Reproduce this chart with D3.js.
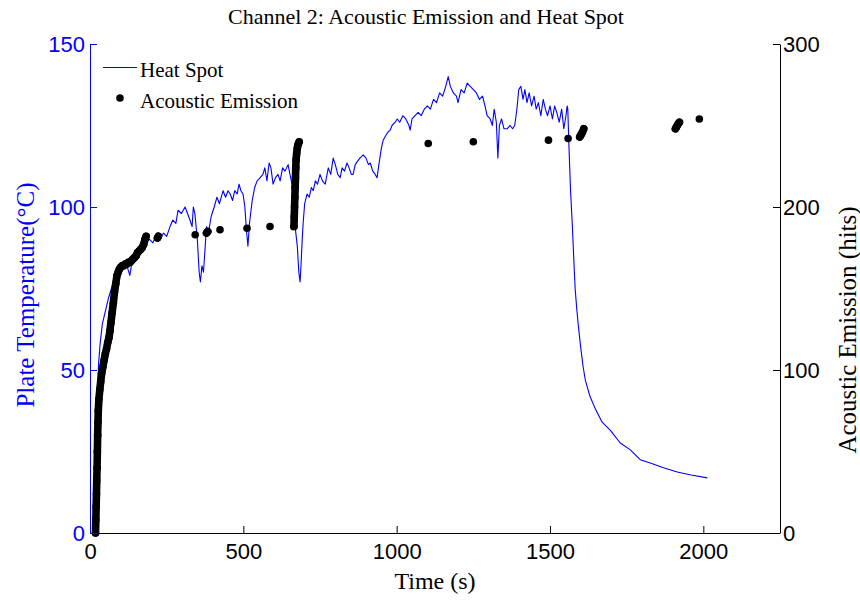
<!DOCTYPE html>
<html>
<head>
<meta charset="utf-8">
<script src="https://cdn.jsdelivr.net/npm/d3@7"></script>
<style>
  html, body { margin: 0; padding: 0; background: #fff; }
  svg { display: block; }
</style>
</head>
<body>
<svg id="chart" width="860" height="602"></svg>
<script>
// ---------------- DATA ----------------
const chartTitle = "Channel 2: Acoustic Emission and Heat Spot";
const xTicks = [0, 500, 1000, 1500, 2000];
const tempTicks = [0, 50, 100, 150];
const hitTicks = [0, 100, 200, 300];

// Heat Spot: time (s) and plate temperature (°C)
const hsTime = [17,20,24,28,33,40,50,60,70,80,90,100,110,120,130,135,150,165,180,195,205,215,228,240,250,261,270,280,287,298,310,318,326,333,337,342,350,356,360,365,370,375,380,386,395,405,414,422,434,442,450,457,465,472,480,486,492,499,505,510,515,520,529,537,545,555,564,570,577,584,590,597,605,613,620,628,636,646,652,659,664,670,676,681,685,688,692,695,700,708,715,722,728,735,742,750,758,767,773,777,785,793,800,808,816,822,830,838,845,852,858,865,872,880,891,900,908,914,922,930,936,942,950,956,965,972,979,985,995,1002,1010,1020,1030,1040,1044,1050,1060,1070,1080,1090,1100,1110,1120,1130,1140,1150,1160,1168,1175,1185,1195,1200,1210,1220,1230,1240,1250,1260,1270,1280,1288,1295,1305,1312,1318,1325,1330,1335,1342,1350,1360,1370,1378,1385,1392,1398,1405,1412,1418,1425,1432,1440,1448,1455,1462,1470,1478,1485,1492,1500,1508,1515,1522,1530,1538,1545,1552,1556,1558,1562,1567,1573,1578,1582,1587,1592,1600,1608,1615,1630,1648,1670,1697,1729,1762,1794,1827,1870,1915,1960,2013];
const hsTemp = [2,25,42,52,58,64,68,72,75,78,80,81,82,82,79,82,85,88,90,90,89,91,90,92,91,94,96,95,99,98,100,98,96,94,100,98,90,80,77,82,80,87,94,92,97,100,103,101,105,103,105,104,102,105,104,107,105,104,100,93,88,95,102,106,108,109,110,112,108,113.5,112,107,109,110,108,112,111,113,110,107,100,93,88,80,77,82,90,95,101,104,103,106,105,108,107,110,108,107,110,112,110,115,113,110,109,112,111,113.5,112,110,110,113,114,115,116,115,113,113.5,111,110,109,113,118,120.5,122,123,123.6,125,126,127,126,128,127,125,123.6,127,128,129,128,130,131,130,133,132,135,134,137,140,137,135,134,132,136,135,138,137,136,135,133,134,131,128,127,125,130,126,115,125,127,124,124,125,124,125,130,136,137,133,136,132,135,131,134,130,132,128,133,130,128,131,127,131,129,126,130,124,128,131,130,118,105,94,83,75,69,64,57,51,47,42,38,34,31.5,27.6,25.5,22.5,21.5,20,18.7,17.8,16.9];

// Acoustic Emission: time (s) and cumulative hits
const aeTime = [18,19,20,21,22,23,24,25,26,27,29,32,35,38,42,46,50,54,58,62,65,68,72,76,80,84,88,92,96,100,105,110,115,120,125,130,135,140,145,150,155,160,165,170,175,179,183,220,223,343,380,384,424,512,587,665,666,667,668,669,670,671,672,674,676,678,680,682,1103,1250,1495,1559,1597,1600,1603,1606,1610,1909,1912,1915,1918,1922,1987];
const aeHits = [0,8,16,24,32,40,50,60,68,75,82,88,93,98,102,106,110,113,117,120,124,129,135,141,148,153,158,160,162,163,164,164,165,165,166,166,167,168,169,170,172,173,174,175,177,180,182,181,182,183,184,185,186,187,188,188,194,200,206,212,218,224,229,233,236,238,239,240,239,240,241,242,243,244,245,246,248,248,249,250,251,252,254];

// ---------------- LAYOUT ----------------
const svg = d3.select("#chart");
const L = 90, R = 780, T = 44, B = 533;
const blue = "#0000ff";
const serif = "'Liberation Serif','Times New Roman',serif";
const sans = "'Liberation Sans',Arial,Helvetica,sans-serif";

const x = d3.scaleLinear().domain([0, 2250]).range([L, R]);
const yT = d3.scaleLinear().domain([0, 150]).range([B, T]);
const yH = d3.scaleLinear().domain([0, 300]).range([B, T]);

// ---------------- MARKS ----------------
const hs = hsTime.map((t, i) => ({t, v: hsTemp[i]}));
svg.append("path")
  .datum(hs)
  .attr("fill", "none")
  .attr("stroke", blue)
  .attr("stroke-width", 1.1)
  .attr("stroke-linejoin", "round")
  .attr("d", d3.line().x(d => x(d.t)).y(d => yT(d.v)));

const ae = aeTime.map((t, i) => ({t, v: aeHits[i]}));
// consecutive hits close in time overlap into a solid band of markers
const bursts = [];
ae.forEach((d, i) => {
  if (i > 0 && d.t - ae[i - 1].t < 12) bursts[bursts.length - 1].push(d);
  else bursts.push([d]);
});
const aeG = svg.append("g");
aeG.selectAll("path.burst")
  .data(bursts.filter(b => b.length > 1))
  .join("path")
  .attr("class", "burst")
  .attr("fill", "none")
  .attr("stroke", "#000")
  .attr("stroke-width", 7.6)
  .attr("stroke-linecap", "round")
  .attr("stroke-linejoin", "round")
  .attr("d", d3.line().x(d => x(d.t)).y(d => yH(d.v)));
aeG.selectAll("circle")
  .data(ae)
  .join("circle")
  .attr("cx", d => x(d.t))
  .attr("cy", d => yH(d.v))
  .attr("r", 3.8)
  .attr("fill", "#000");

// ---------------- AXES ----------------
const tickLen = 7;
const fmt = d3.format("d");
// bottom axis
const xAxis = svg.append("g").attr("transform", `translate(0,${B})`)
  .call(d3.axisBottom(x).tickValues(xTicks).tickFormat(fmt).tickSizeInner(-tickLen).tickSizeOuter(0).tickPadding(10));
xAxis.select(".domain").attr("d", `M${L},0.5H${R}`).attr("stroke", "#000");
xAxis.selectAll("text").attr("font-family", sans).attr("font-size", 22).attr("fill", "#000");

// left axis
const yAxisL = svg.append("g").attr("transform", `translate(${L},0)`)
  .call(d3.axisLeft(yT).tickValues(tempTicks).tickFormat(fmt).tickSizeInner(-tickLen).tickSizeOuter(0).tickPadding(5));
yAxisL.select(".domain").attr("stroke", blue);
yAxisL.selectAll(".tick line").attr("stroke", blue);
yAxisL.selectAll("text").attr("font-family", sans).attr("font-size", 22).attr("fill", blue);

// right axis
const yAxisR = svg.append("g").attr("transform", `translate(${R},0)`)
  .call(d3.axisRight(yH).tickValues(hitTicks).tickFormat(fmt).tickSizeInner(-tickLen).tickSizeOuter(0).tickPadding(3));
yAxisR.select(".domain").attr("stroke", "#000");
yAxisR.selectAll("text").attr("font-family", sans).attr("font-size", 22).attr("fill", "#000");

// ---------------- TEXT ----------------
svg.append("text").attr("x", 426).attr("y", 24).attr("text-anchor", "middle")
  .attr("font-family", serif).attr("font-size", 22).text(chartTitle);

svg.append("text").attr("x", 435).attr("y", 589).attr("text-anchor", "middle")
  .attr("font-family", serif).attr("font-size", 24).text("Time (s)");

svg.append("text").attr("transform", `translate(34,295) rotate(-90)`).attr("text-anchor", "middle")
  .attr("font-family", serif).attr("font-size", 25).attr("fill", blue).text("Plate Temperature(°C)");

svg.append("text").attr("transform", `translate(856,330) rotate(-90)`).attr("text-anchor", "middle")
  .attr("font-family", serif).attr("font-size", 25).attr("fill", "#000").text("Acoustic Emission (hits)");

// ---------------- LEGEND ----------------
const lg = svg.append("g");
lg.append("line").attr("x1", 103).attr("x2", 137).attr("y1", 67.5).attr("y2", 67.5)
  .attr("stroke", blue).attr("stroke-width", 1.1);
lg.append("text").attr("x", 140).attr("y", 77).attr("font-family", serif).attr("font-size", 21).text("Heat Spot");
lg.append("circle").attr("cx", 120).attr("cy", 98).attr("r", 3.8).attr("fill", "#000");
lg.append("text").attr("x", 140).attr("y", 108).attr("font-family", serif).attr("font-size", 21).text("Acoustic Emission");
</script>
</body>
</html>
